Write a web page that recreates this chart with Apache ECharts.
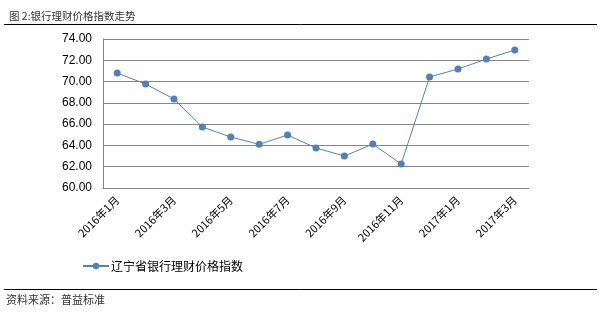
<!DOCTYPE html>
<html><head><meta charset="utf-8">
<script src="https://cdn.jsdelivr.net/npm/echarts@6/dist/echarts.min.js"></script>
<style>html,body{margin:0;padding:0;background:#fff}#c{width:601px;height:314px}</style>
</head><body><div id="c"></div>
<script>
const categories = ['2016年1月','2016年2月','2016年3月','2016年4月','2016年5月','2016年6月','2016年7月','2016年8月','2016年9月','2016年10月','2016年11月','2016年12月','2017年1月','2017年2月','2017年3月'];
const values = [70.80, 69.77, 68.36, 65.73, 64.79, 64.10, 64.98, 63.76, 63.00, 64.13, 62.25, 70.43, 71.18, 72.12, 72.97];
const seriesName = '辽宁省银行理财价格指数';
const titleText = '图 2:银行理财价格指数走势';
const sourceText = '资料来源：普益标准';
const FONT = '"Microsoft YaHei","Noto Sans CJK SC",sans-serif';
const chart = echarts.init(document.getElementById('c'), null, {renderer:'canvas'});
chart.setOption({
  animation:false,
  title:{text:titleText,left:4,top:6,textStyle:{fontSize:10.5,fontWeight:'normal',color:'#333',fontFamily:FONT}},
  graphic:[
    {type:'line',shape:{x1:4,y1:24.5,x2:597,y2:24.5},style:{stroke:'#000',lineWidth:1}},
    {type:'line',shape:{x1:4,y1:289.5,x2:597,y2:289.5},style:{stroke:'#000',lineWidth:1}},
    {type:'text',left:6,top:294,style:{text:sourceText,fontSize:11,fill:'#333',fontFamily:FONT}}
  ],
  grid:{left:103,right:72,top:39,bottom:126,containLabel:false},
  legend:{data:[seriesName],left:77,top:255,itemWidth:26,itemHeight:8,itemGap:4,
    textStyle:{fontSize:12,color:'#000',fontFamily:FONT,padding:[0,0,0,-3]}},
  xAxis:{type:'category',data:categories,boundaryGap:true,
    axisLine:{lineStyle:{color:'#868686'}},axisTick:{show:false},
    axisLabel:{interval:1,rotate:45,fontSize:11,color:'#000',fontFamily:FONT,margin:10}},
  yAxis:{type:'value',min:60,max:74,interval:2,
    axisLine:{show:true,lineStyle:{color:'#868686'}},axisTick:{show:false},
    splitLine:{lineStyle:{color:'#868686',width:1}},
    axisLabel:{formatter:v=>v.toFixed(2),fontSize:12,color:'#000',fontFamily:'Arial,"Liberation Sans",sans-serif',margin:11}},
  series:[{name:seriesName,type:'line',data:values,symbol:'circle',symbolSize:7,
    lineStyle:{color:'#4F81BD',width:1},itemStyle:{color:'#4F81BD'}}]
});
</script></body></html>
